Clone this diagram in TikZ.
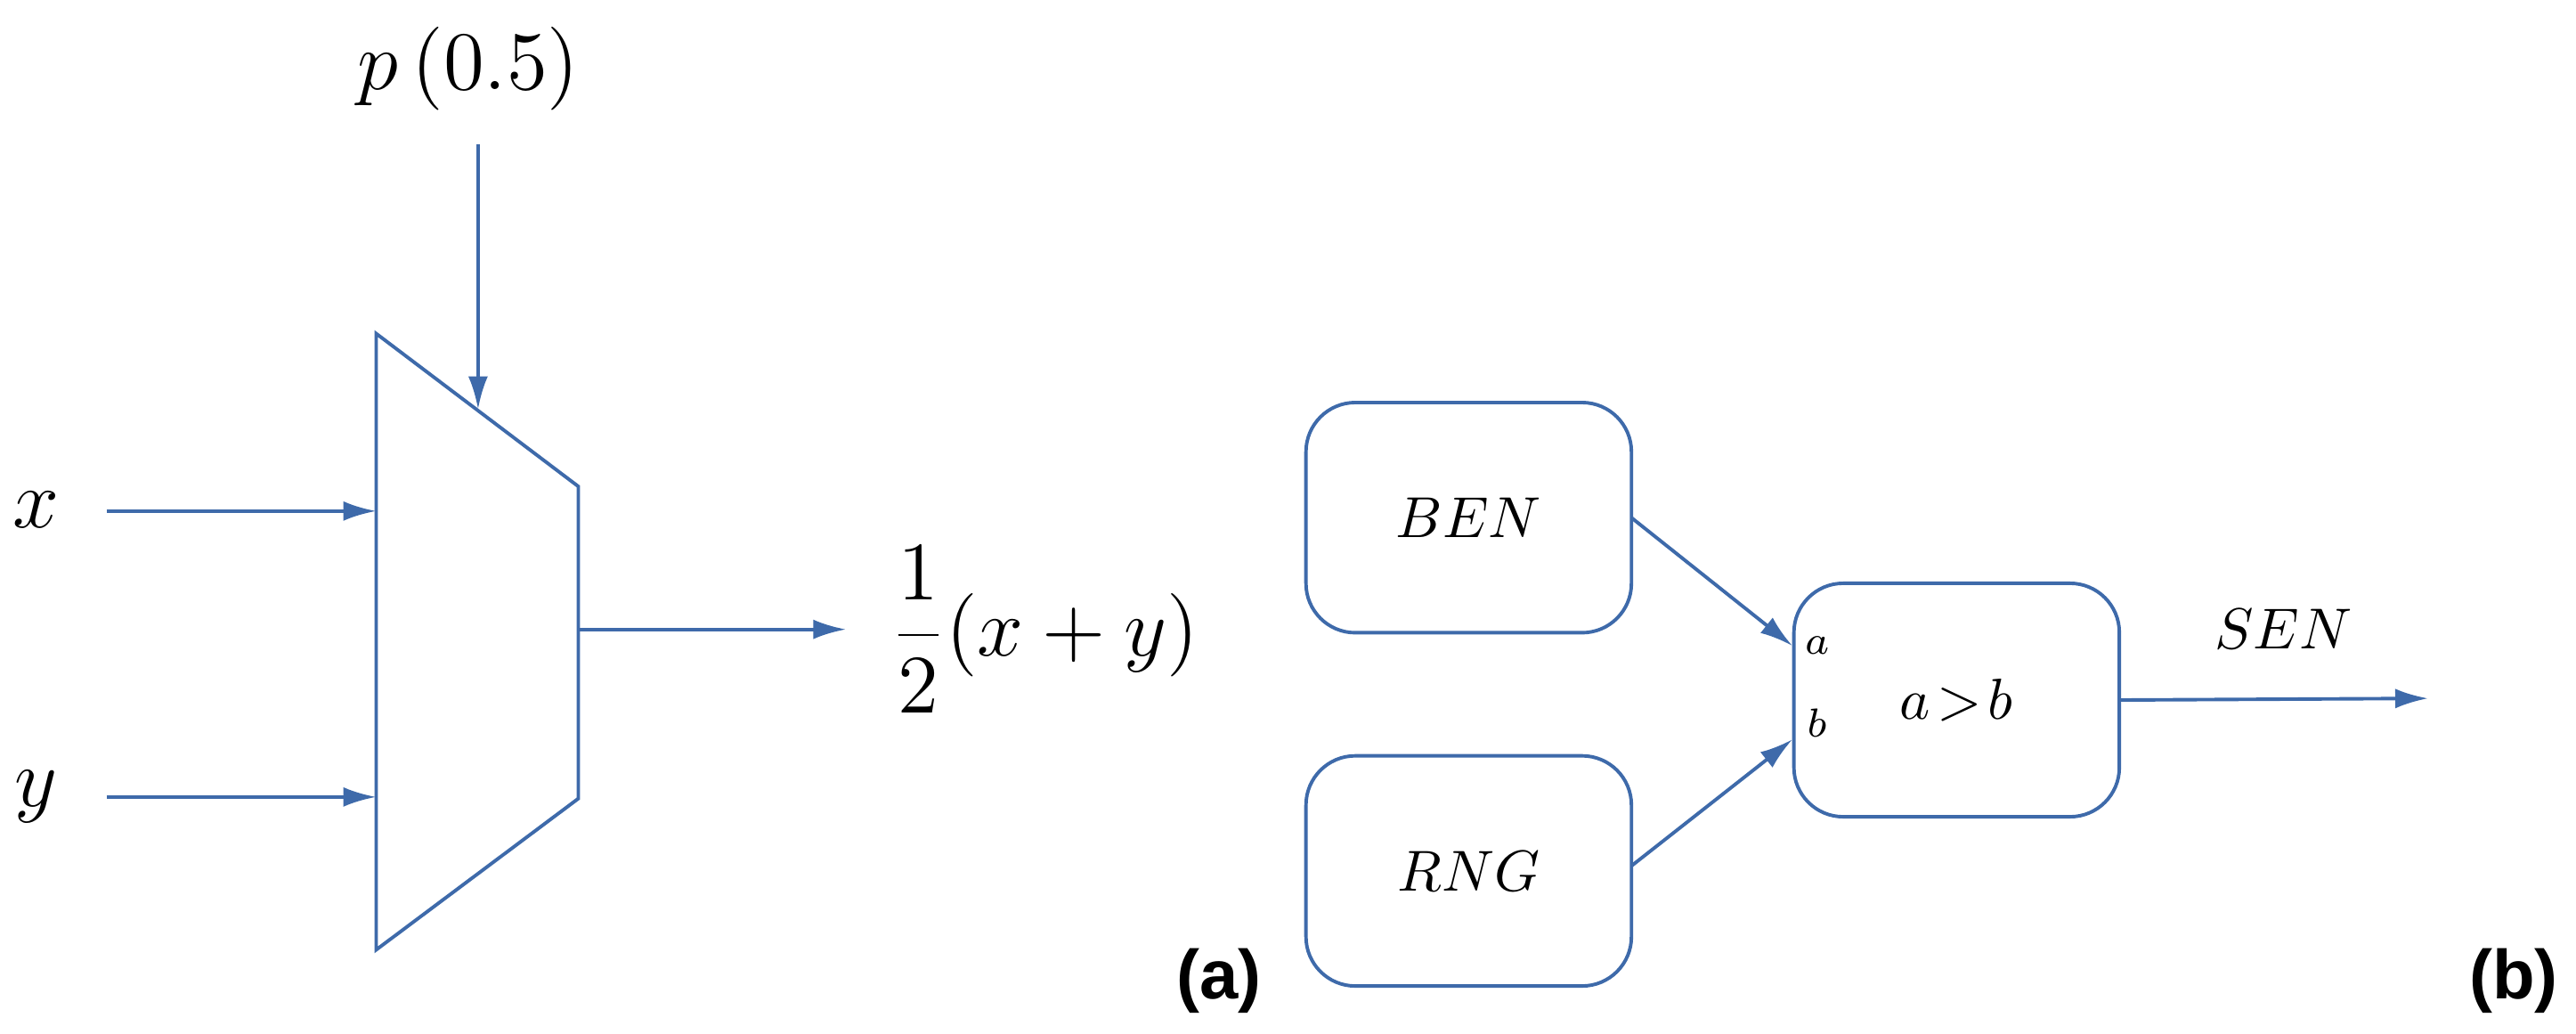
\documentclass[tikz,border=0pt]{standalone}
\usepackage{fontspec}
\setmainfont{Liberation Serif}
\newfontfamily\lsans{Liberation Sans}
\usetikzlibrary{arrows.meta}
\definecolor{ln}{RGB}{62,106,170}
\begin{document}
\begin{tikzpicture}[x=0.01cm,y=-0.01cm,
  ln/.style={draw=ln,line width=0.6pt},
  arr/.style={ln,-{Latex[length=0.2cm,width=0.12cm]}},
  box/.style={ln,rounded corners=0.3cm},
  lab/.style={font=\fontsize{14}{16}\selectfont\itshape},
  blab/.style={font=\fontsize{10}{12}\selectfont\itshape},
  tag/.style={font=\lsans\bfseries\fontsize{12}{14}\selectfont}]
\useasboundingbox (0,0) rectangle (1568,629);
% (a)
\draw[ln] (229,203) -- (352,296) -- (352,486) -- (229,578) -- cycle;
\coordinate (sel) at (291,249);
\node[lab] (p) at (285,42) {$p\,(0.5)$};
\coordinate (ptop) at (291,88);
\draw[arr] (ptop) -- (sel);
\node[lab] (x) at (22,310) {$x$};
\node[lab] (y) at (22,485) {$y$};
\coordinate (x0) at (65,311); \coordinate (x1) at (229,311);
\coordinate (y0) at (65,485); \coordinate (y1) at (229,485);
\draw[arr] (x0) -- (x1);
\draw[arr] (y0) -- (y1);
\coordinate (o0) at (352,383); \coordinate (o1) at (515,383);
\draw[arr] (o0) -- (o1);
\node[lab,anchor=west] (out) at (530,383) {$\displaystyle\frac{1}{2}\bigl(x+y\bigr)$};
\node[tag] (ta) at (742,597) {(a)};
% (b)
\node[box,minimum width=1.98cm,minimum height=1.40cm,blab] (ben) at (894,315) {$BEN$};
\node[box,minimum width=1.98cm,minimum height=1.40cm,blab] (rng) at (894,530) {$RNG$};
\node[box,minimum width=1.98cm,minimum height=1.42cm,blab] (cmp) at (1191,426) {$a\!>\!b$};
\coordinate (ca) at (1091,393); \coordinate (cb) at (1091,450);
\coordinate (be) at (993,315); \coordinate (re) at (993,527);
\draw[arr] (be) -- (ca);
\draw[arr] (re) -- (cb);
\node[font=\fontsize{7}{8}\selectfont\itshape] (la) at (1106,393) {$a$};
\node[font=\fontsize{7}{8}\selectfont\itshape] (lb) at (1106,440) {$b$};
\coordinate (s1) at (1478,425);
\draw[arr] (cmp.east) -- (s1);
\node[blab] (sen) at (1390,383) {$SEN$};
\node[tag] (tb) at (1530,597) {(b)};
\end{tikzpicture}
\end{document}
